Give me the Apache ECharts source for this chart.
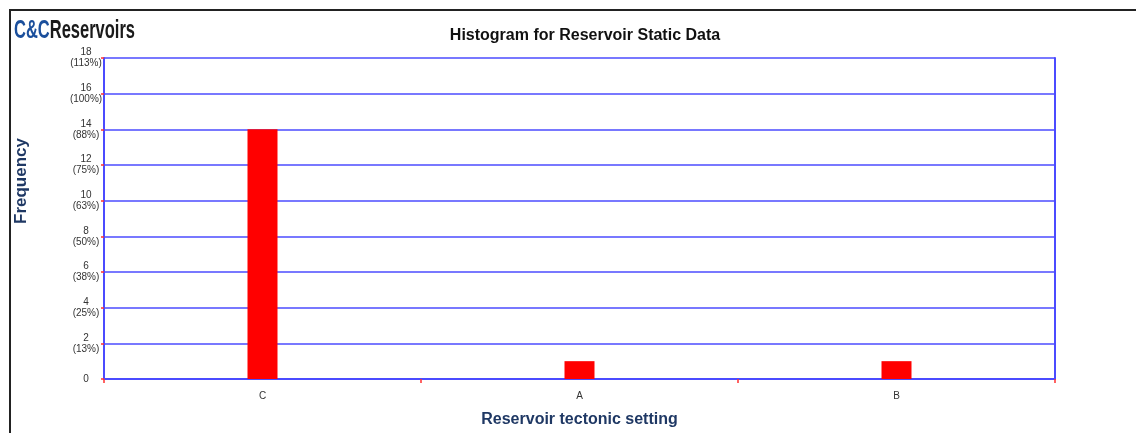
<!DOCTYPE html>
<html><head><meta charset="utf-8">
<script src="https://cdn.jsdelivr.net/npm/echarts@6/dist/echarts.min.js"></script>
<style>html,body{margin:0;padding:0;background:#fff}#c{width:1136px;height:433px}</style>
</head><body><div id="c"></div>
<script>
const categories = ['C', 'A', 'B'];
const frequency = [14, 1, 1];
const total = 16;
const yTicks = [0, 2, 4, 6, 8, 10, 12, 14, 16, 18];

const chart = echarts.init(document.getElementById('c'));
chart.setOption({
  animation: false,
  backgroundColor: '#fff',
  title: {
    text: 'Histogram for Reservoir Static Data',
    left: 580, top: 23, textAlign: 'center',
    textStyle: {fontFamily: 'Liberation Sans, Arial', fontSize: 16, fontWeight: 'bold', color: '#111'}
  },
  graphic: [
    {type: 'line', shape: {x1: 9, y1: 10, x2: 1136, y2: 10}, style: {stroke: '#222', lineWidth: 2}},
    {type: 'line', shape: {x1: 10, y1: 9, x2: 10, y2: 433}, style: {stroke: '#222', lineWidth: 2}},
    {type: 'text', x: 14, y: 19, scaleX: 0.66, style: {
      text: '{a|C&C}{b|Reservoirs}',
      rich: {
        a: {fontFamily: 'Liberation Sans, Arial', fontWeight: 'bold', fontSize: 25, fill: '#1b4f9c'},
        b: {fontFamily: 'Liberation Sans, Arial', fontWeight: 'bold', fontSize: 25, fill: '#1a1a1a'}
      }
    }},
    {type: 'text', x: 21, y: 181, rotation: Math.PI / 2, style: {
      text: 'Frequency', align: 'center', verticalAlign: 'middle',
      fontFamily: 'Liberation Sans, Arial', fontSize: 17, fontWeight: 'bold', fill: '#1f3864'
    }}
  ],
  grid: {left: 104, right: 81, top: 58, bottom: 54, containLabel: false},
  xAxis: {
    type: 'category', data: categories,
    name: 'Reservoir tectonic setting', nameLocation: 'middle', nameGap: 33,
    nameTextStyle: {fontFamily: 'Liberation Sans, Arial', fontSize: 16, fontWeight: 'bold', color: '#1f3864'},
    axisLine: {lineStyle: {color: '#4b4bff', width: 2}},
    axisTick: {show: true, length: 4, lineStyle: {color: '#ff3030', width: 1.5}},
    axisLabel: {fontFamily: 'Liberation Sans, Arial', fontSize: 10, color: '#333', margin: 12}
  },
  yAxis: [{
    type: 'value', min: 0, max: 18, interval: 2,
    axisLine: {show: true, lineStyle: {color: '#4b4bff', width: 2}},
    axisTick: {show: true, length: 3, lineStyle: {color: '#ff3030', width: 1.5}},
    splitLine: {show: true, lineStyle: {color: '#4b4bff', width: 1.5}},
    axisLabel: {
      fontFamily: 'Liberation Sans, Arial', fontSize: 10, color: '#333', margin: 18, lineHeight: 11,
      align: 'center',
      formatter: v => v === 0 ? v + '' : v + '\n(' + Math.round(v / total * 100) + '%)'
    }
  }, {
    type: 'value', min: 0, max: 18, interval: 2, position: 'right',
    axisLine: {show: true, lineStyle: {color: '#4b4bff', width: 2}},
    axisTick: {show: false}, axisLabel: {show: false}, splitLine: {show: false}
  }],
  series: [{
    type: 'bar', data: frequency, barWidth: 30, yAxisIndex: 0,
    itemStyle: {color: '#ff0000'}
  }]
});
</script></body></html>
